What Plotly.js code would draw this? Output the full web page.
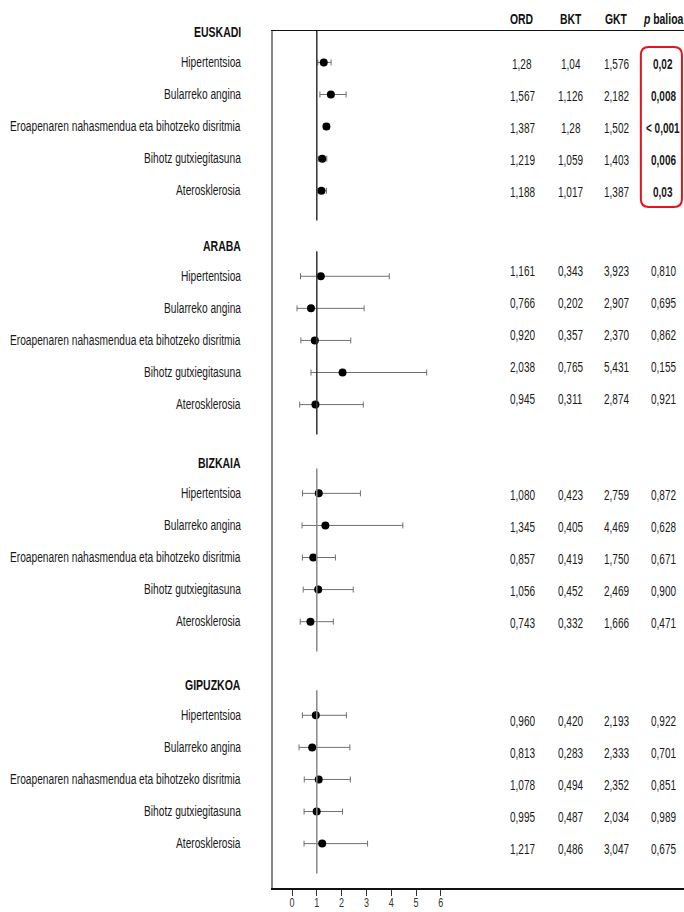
<!DOCTYPE html>
<html>
<head>
<meta charset="utf-8">
<script src="https://cdn.plot.ly/plotly-3.0.1.min.js"></script>
<style>
html,body{margin:0;padding:0;background:#fff;}
#chart{width:684px;height:912px;}
</style>
</head>
<body>
<div id="chart"></div>
<script>
// ---------- DATA ----------
const groups = ['EUSKADI', 'ARABA', 'BIZKAIA', 'GIPUZKOA'];
const conditions = ['Hipertentsioa', 'Bularreko angina', 'Eroapenaren nahasmendua eta bihotzeko disritmia', 'Bihotz gutxiegitasuna', 'Aterosklerosia'];
const columnHeaders = ['ORD', 'BKT', 'GKT', '<i>p</i> balioa'];
const xTicks = [0, 1, 2, 3, 4, 5, 6];

const ordEuskadi = ['1,28', '1,567', '1,387', '1,219', '1,188'];
const bktEuskadi = ['1,04', '1,126', '1,28', '1,059', '1,017'];
const gktEuskadi = ['1,576', '2,182', '1,502', '1,403', '1,387'];
const pEuskadi = ['0,02', '0,008', '< 0,001', '0,006', '0,03'];

const ordAraba = ['1,161', '0,766', '0,920', '2,038', '0,945'];
const bktAraba = ['0,343', '0,202', '0,357', '0,765', '0,311'];
const gktAraba = ['3,923', '2,907', '2,370', '5,431', '2,874'];
const pAraba = ['0,810', '0,695', '0,862', '0,155', '0,921'];

const ordBizkaia = ['1,080', '1,345', '0,857', '1,056', '0,743'];
const bktBizkaia = ['0,423', '0,405', '0,419', '0,452', '0,332'];
const gktBizkaia = ['2,759', '4,469', '1,750', '2,469', '1,666'];
const pBizkaia = ['0,872', '0,628', '0,671', '0,900', '0,471'];

const ordGipuzkoa = ['0,960', '0,813', '1,078', '0,995', '1,217'];
const bktGipuzkoa = ['0,420', '0,283', '0,494', '0,487', '0,486'];
const gktGipuzkoa = ['2,193', '2,333', '2,352', '2,034', '3,047'];
const pGipuzkoa = ['0,922', '0,701', '0,851', '0,989', '0,675'];

// ---------- LAYOUT CONSTANTS ----------
const groupOffsets = [0, 6.6, 13.3, 20.15];
const tableShift = [2, -5, 2, 6];
const colX = [0.606, 0.725, 0.835, 0.949];
const FONT = 'Liberation Sans, Arial, sans-serif';
const TEXT_STRETCH = 1.4;

const num = s => parseFloat(s.replace(',', '.'));
const ordAll = [ordEuskadi, ordAraba, ordBizkaia, ordGipuzkoa];
const bktAll = [bktEuskadi, bktAraba, bktBizkaia, bktGipuzkoa];
const gktAll = [gktEuskadi, gktAraba, gktBizkaia, gktGipuzkoa];
const pAll = [pEuskadi, pAraba, pBizkaia, pGipuzkoa];

const rowY = (g, j) => groupOffsets[g] + 0.97 + j * 0.99;

const traces = [];
const annotations = [];
const shapes = [];

groups.forEach((grp, g) => {
  const xs = ordAll[g].map(num);
  const lo = bktAll[g].map(num);
  const hi = gktAll[g].map(num);
  const ys = conditions.map((c, j) => rowY(g, j));
  traces.push({
    type: 'scatter', mode: 'markers', x: xs, y: ys,
    marker: {color: '#000', size: 8, symbol: 'circle'},
    error_x: {type: 'data', symmetric: false,
      array: xs.map((v, i) => hi[i] - v),
      arrayminus: xs.map((v, i) => v - lo[i]),
      color: '#707070', thickness: 1, width: 3},
    hoverinfo: 'skip', showlegend: false, cliponaxis: false
  });
  annotations.push({xref: 'paper', yref: 'y', x: 0, y: groupOffsets[g], xanchor: 'right', xshift: -30,
    yanchor: 'middle', showarrow: false, text: '<b>' + grp + '</b>',
    font: {family: FONT, size: 10.5, color: '#111'}});
  conditions.forEach((c, j) => {
    annotations.push({xref: 'paper', yref: 'y', x: 0, y: ys[j], xanchor: 'right', xshift: -30,
      yanchor: 'middle', showarrow: false, text: c,
      font: {family: FONT, size: 10.2, color: '#1a1a1a'}});
    const vals = [ordAll[g][j], bktAll[g][j], gktAll[g][j], pAll[g][j]];
    vals.forEach((v, k) => {
      const bold = (g === 0 && k === 3);
      annotations.push({xref: 'paper', yref: 'y', x: colX[k], y: ys[j], xanchor: 'center',
        yanchor: 'middle', yshift: -tableShift[g], showarrow: false,
        text: bold ? '<b>' + v + '</b>' : v,
        font: {family: FONT, size: 10, color: '#1a1a1a'}});
    });
  });
  shapes.push({type: 'line', xref: 'x', yref: 'y', x0: 1, x1: 1,
    y0: g === 0 ? groupOffsets[g] : groupOffsets[g] + 0.2,
    y1: groupOffsets[g] + 5.85,
    line: {color: g < 2 ? '#333' : '#888', width: 1.5}});
});

columnHeaders.forEach((h, k) => {
  annotations.push({xref: 'paper', yref: 'paper', x: colX[k], y: 1, yshift: 12, xanchor: 'center',
    yanchor: 'middle', showarrow: false, text: '<b>' + h + '</b>',
    font: {family: FONT, size: 10.4, color: '#111'}});
});

(function(){
  const x0 = 0.895, x1 = 0.995, y0 = 0.7946, y1 = 0.9813, rx = 0.0195, ry = 0.0093;
  const p = `M ${x0+rx},${y1} L ${x1-rx},${y1} Q ${x1},${y1} ${x1},${y1-ry} L ${x1},${y0+ry} Q ${x1},${y0} ${x1-rx},${y0} L ${x0+rx},${y0} Q ${x0},${y0} ${x0},${y0+ry} L ${x0},${y1-ry} Q ${x0},${y1} ${x0+rx},${y1} Z`;
  shapes.push({type: 'path', xref: 'paper', yref: 'paper', path: p, line: {color: '#e3141b', width: 2}});
})();

const plotW = 684 - 273;
const unitPx = 24.8;
const xmin = -19 / unitPx;

const layout = {
  width: 684, height: 912,
  margin: {l: 273, r: 0, t: 31, b: 24},
  paper_bgcolor: '#fff', plot_bgcolor: '#fff',
  showlegend: false,
  xaxis: {range: [xmin, xmin + plotW / unitPx], tickvals: xTicks, ticktext: xTicks.map(String),
    ticks: 'outside', ticklen: 6, tickcolor: '#333', tickwidth: 1,
    showline: true, linecolor: '#111', linewidth: 1.5, mirror: true,
    showgrid: false, zeroline: false,
    tickfont: {family: FONT, size: 9, color: '#333'}},
  yaxis: {range: [26.45, 0], showticklabels: false, ticks: '',
    showline: true, linecolor: '#888', linewidth: 2, mirror: false,
    showgrid: false, zeroline: false},
  annotations: annotations,
  shapes: shapes
};

function stretchText(sel) {
  document.querySelectorAll(sel).forEach(t => {
    const b = t.getBBox();
    const cx = b.x + b.width / 2, cy = b.y + b.height / 2;
    const old = t.getAttribute('transform') || '';
    t.setAttribute('transform', (old + ` translate(${cx},${cy}) scale(1,${TEXT_STRETCH}) translate(${-cx},${-cy})`).trim());
  });
}

Plotly.newPlot('chart', traces, layout, {displayModeBar: false, staticPlot: true}).then(() => {
  stretchText('#chart g.annotation text');
  stretchText('#chart g.xtick text');
});
</script>
</body>
</html>
